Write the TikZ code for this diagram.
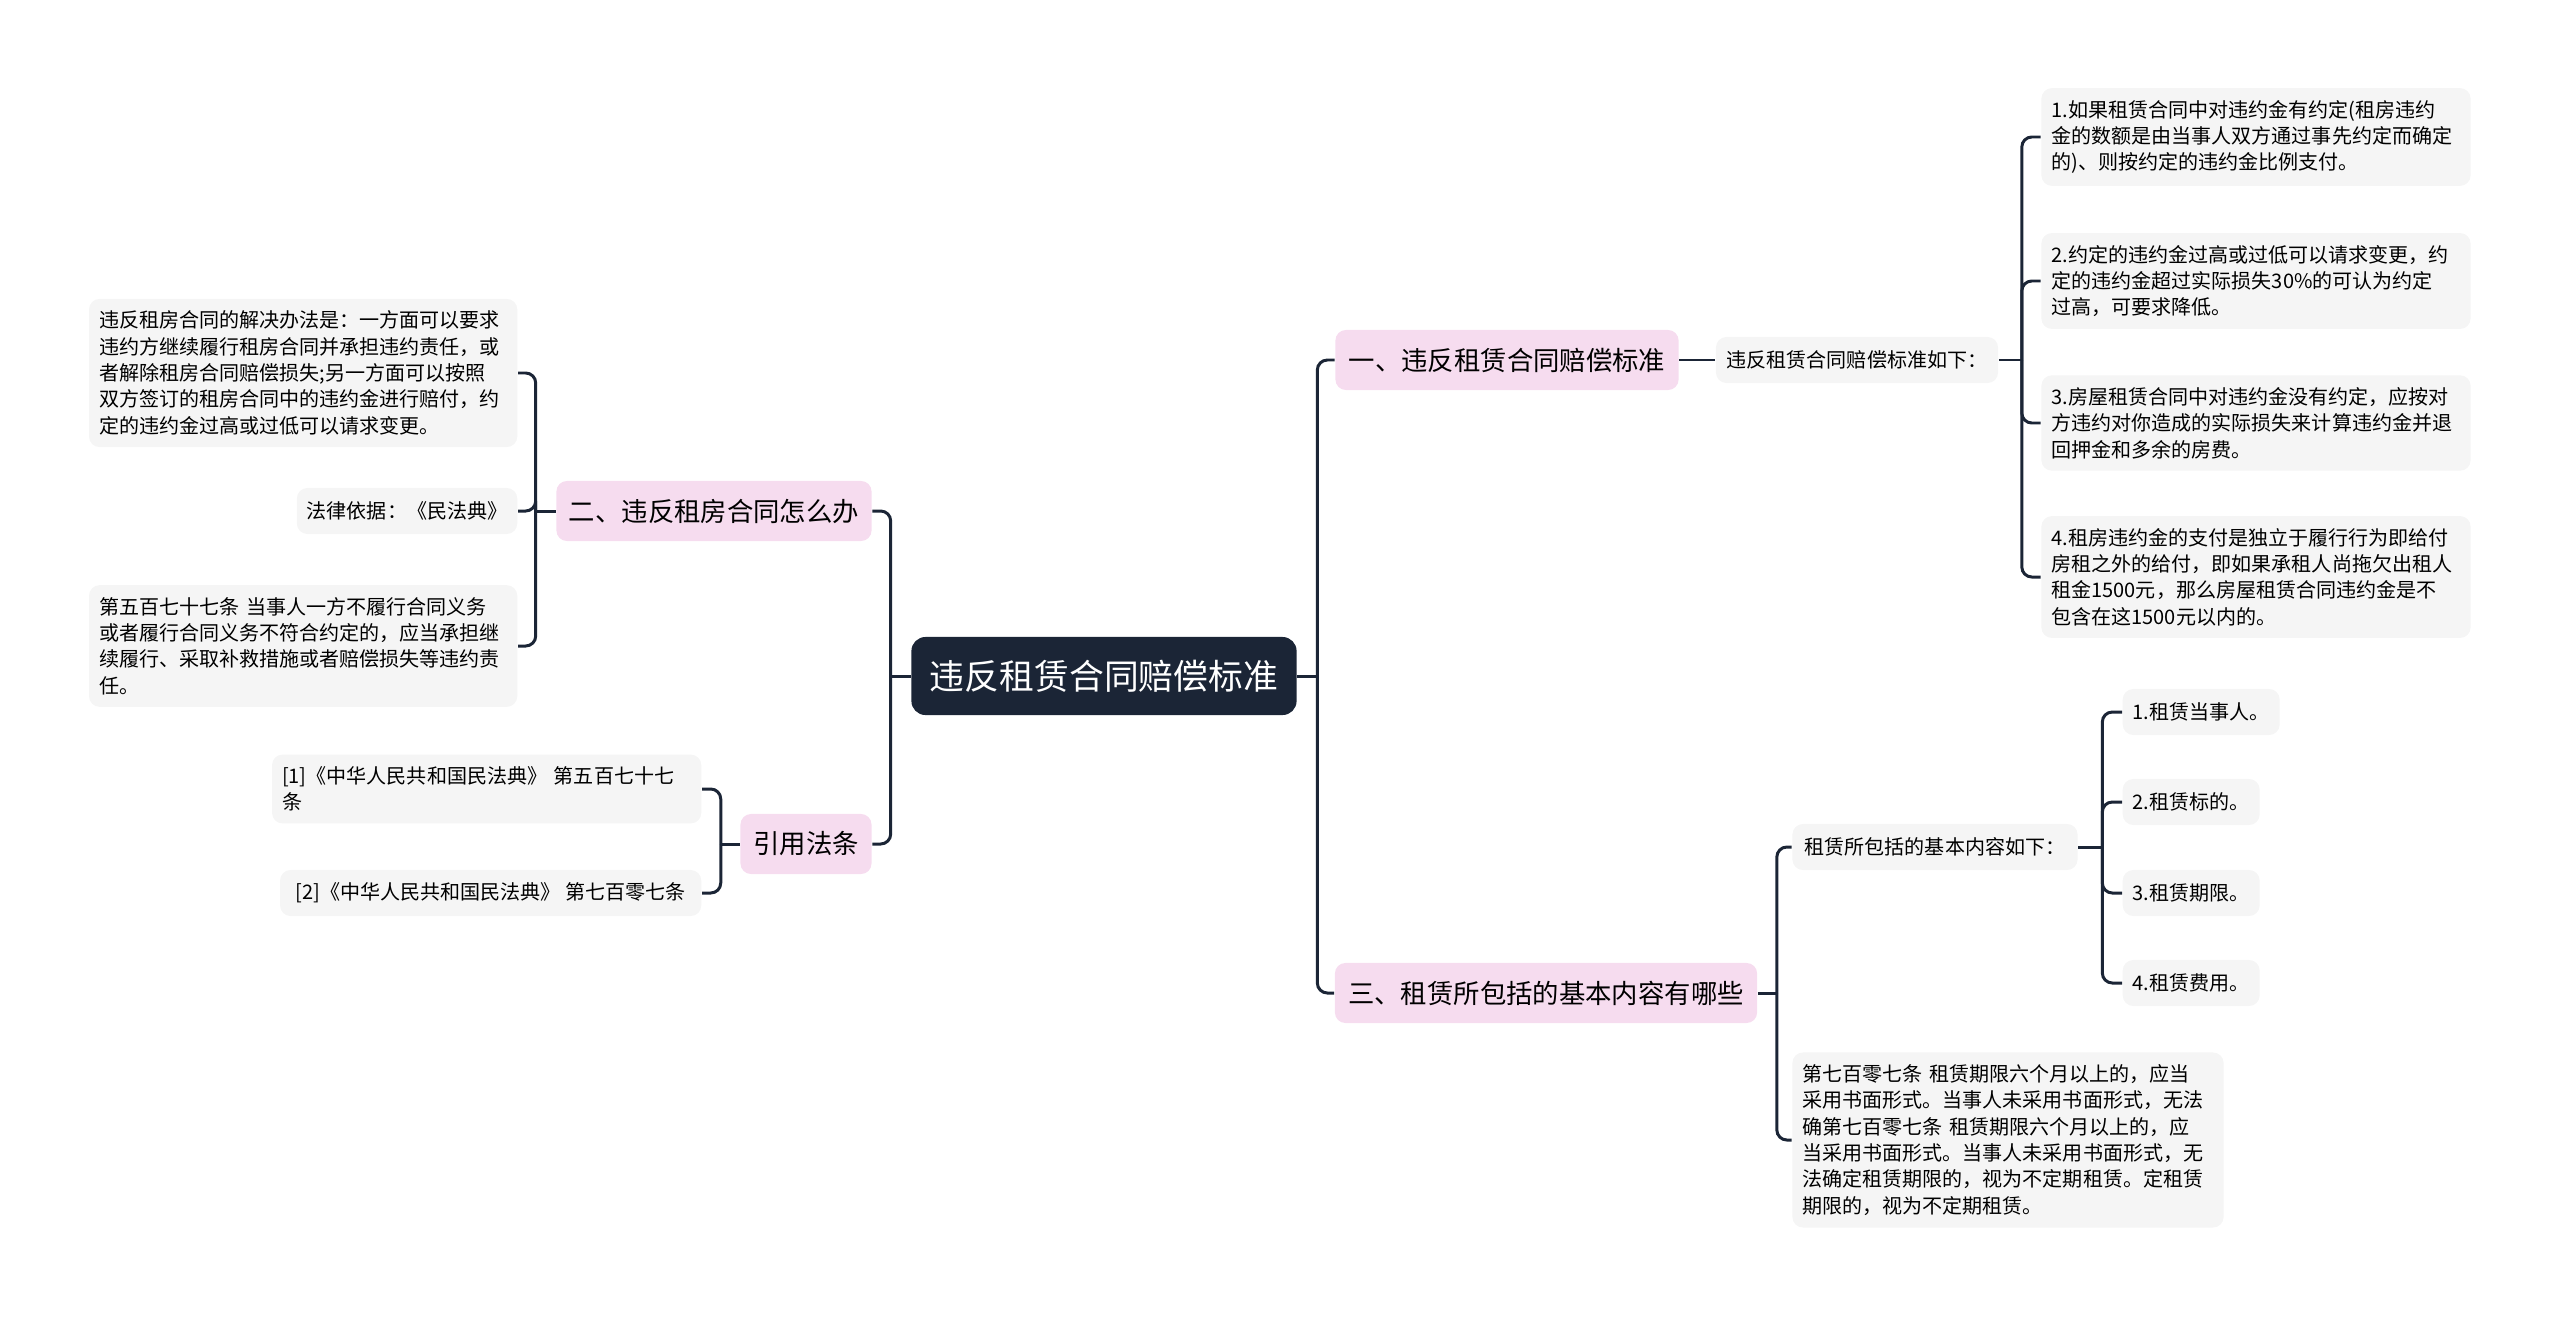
\documentclass[tikz,border=0pt]{standalone}
\usepackage{fontspec}
\setmainfont{Noto Sans CJK SC}
\definecolor{rootbg}{HTML}{1B2536}
\definecolor{topicbg}{HTML}{F6DCEF}
\definecolor{leafbg}{HTML}{F5F5F5}

\begin{document}
\begin{tikzpicture}[x=0.01cm, y=-0.01cm,
  root/.style={fill=rootbg, text=white, rounded corners=4pt, minimum width=3.85cm, minimum height=0.78cm, font=\fontsize{9.9pt}{12pt}\selectfont},
  topic/.style={fill=topicbg, rounded corners=3pt, minimum height=0.6cm, inner xsep=0.12cm, font=\fontsize{7.5pt}{9pt}\selectfont},
  leaf/.style={fill=leafbg, rounded corners=3pt, inner xsep=0.1cm, inner ysep=0.12cm, minimum height=0.46cm, align=left, font=\fontsize{5.7pt}{7.5pt}\selectfont},
  link/.style={draw=rootbg, line width=0.85pt, rounded corners=0.1cm}]

  \useasboundingbox (0,0) rectangle (2560,1318);

  % root
  \node[root] (root) at (1104,676) {违反租赁合同赔偿标准};

  % main topics
  \node[topic, minimum width=3.43cm] (b1) at (1507,360) {一、违反租赁合同赔偿标准};
  \node[topic, minimum width=4.22cm] (b3) at (1546,993) {三、租赁所包括的基本内容有哪些};
  \node[topic, minimum width=3.15cm] (b2) at (714,511) {二、违反租房合同怎么办};
  \node[topic, minimum width=1.31cm] (b4) at (806,844) {引用法条};

  % ---- branch one ----
  \node[leaf, minimum width=2.82cm] (b1c) at (1857,360) {违反租赁合同赔偿标准如下：};
  \node[leaf, text width=4.09cm] (i1) at (2256,137) {1.如果租赁合同中对违约金有约定(租房违约\\金的数额是由当事人双方通过事先约定而确定\\的)、则按约定的违约金比例支付。};
  \node[leaf, text width=4.09cm] (i2) at (2256,281) {2.约定的违约金过高或过低可以请求变更，约\\定的违约金超过实际损失30\%的可认为约定\\过高，可要求降低。};
  \node[leaf, text width=4.09cm] (i3) at (2256,423) {3.房屋租赁合同中对违约金没有约定，应按对\\方违约对你造成的实际损失来计算违约金并退\\回押金和多余的房费。};
  \node[leaf, text width=4.09cm] (i4) at (2256,577) {4.租房违约金的支付是独立于履行行为即给付\\房租之外的给付，即如果承租人尚拖欠出租人\\租金1500元，那么房屋租赁合同违约金是不\\包含在这1500元以内的。};

  % ---- branch three ----
  \node[leaf, minimum width=2.85cm] (b3c) at (1935,847) {租赁所包括的基本内容如下：};
  \node[leaf, anchor=west] (s1) at (2122,712) {1.租赁当事人。};
  \node[leaf, anchor=west] (s2) at (2122,802) {2.租赁标的。};
  \node[leaf, anchor=west] (s3) at (2122,893) {3.租赁期限。};
  \node[leaf, anchor=west] (s4) at (2122,983) {4.租赁费用。};
  \node[leaf, text width=4.11cm] (b3t) at (2008,1140) {第七百零七条 租赁期限六个月以上的，应当\\采用书面形式。当事人未采用书面形式，无法\\确第七百零七条 租赁期限六个月以上的，应\\当采用书面形式。当事人未采用书面形式，无\\法确定租赁期限的，视为不定期租赁。定租赁\\期限的，视为不定期租赁。};

  % ---- branch two ----
  \node[leaf, text width=4.08cm, anchor=east] (a1) at (518,373) {违反租房合同的解决办法是：一方面可以要求\\违约方继续履行租房合同并承担违约责任，或\\者解除租房合同赔偿损失;另一方面可以按照\\双方签订的租房合同中的违约金进行赔付，约\\定的违约金过高或过低可以请求变更。};
  \node[leaf, anchor=east] (a2) at (518,511) {法律依据：《民法典》};
  \node[leaf, text width=4.08cm, anchor=east] (a3) at (518,646) {第五百七十七条 当事人一方不履行合同义务\\或者履行合同义务不符合约定的，应当承担继\\续履行、采取补救措施或者赔偿损失等违约责\\任。};

  % ---- references ----
  \node[leaf, text width=4.09cm, anchor=east] (r1) at (702,789) {[1]《中华人民共和国民法典》 第五百七十七\\条};
  \node[leaf, minimum width=4.21cm, anchor=east] (r2) at (702,893) {[2]《中华人民共和国民法典》 第七百零七条};

  % ---- connectors ----
  \coordinate (jr) at ([xshift=0.2cm]root.east);
  \coordinate (jl) at ([xshift=-0.2cm]root.west);
  \draw[link] (root.east) -- (jr);
  \draw[link] (jr) |- (b1.west);
  \draw[link] (jr) |- (b3.west);
  \draw[link] (root.west) -- (jl);
  \draw[link] (jl) |- (b2.east);
  \draw[link] (jl) |- (b4.east);

  \draw[link] (b1.east) -- (b1c.west);
  \coordinate (j1) at ([xshift=0.23cm]b1c.east);
  \draw[link] (b1c.east) -- (j1);
  \draw[link] (j1) |- (i1.west);
  \draw[link] (j1) |- (i2.west);
  \draw[link] (j1) |- (i3.west);
  \draw[link] (j1) |- (i4.west);

  \coordinate (j3) at ([xshift=0.19cm]b3.east);
  \draw[link] (b3.east) -- (j3);
  \draw[link] (j3) |- (b3c.west);
  \draw[link] (j3) |- (b3t.west);
  \coordinate (j3c) at ([xshift=0.24cm]b3c.east);
  \draw[link] (b3c.east) -- (j3c);
  \draw[link] (j3c) |- (s1.west);
  \draw[link] (j3c) |- (s2.west);
  \draw[link] (j3c) |- (s3.west);
  \draw[link] (j3c) |- (s4.west);

  \coordinate (j2) at ([xshift=-0.2cm]b2.west);
  \draw[link] (b2.west) -- (j2);
  \draw[link] (j2) |- (a1.east);
  \draw[link] (j2) |- (a2.east);
  \draw[link] (j2) |- (a3.east);

  \coordinate (j4) at ([xshift=-0.19cm]b4.west);
  \draw[link] (b4.west) -- (j4);
  \draw[link] (j4) |- (r1.east);
  \draw[link] (j4) |- (r2.east);
\end{tikzpicture}
\end{document}
